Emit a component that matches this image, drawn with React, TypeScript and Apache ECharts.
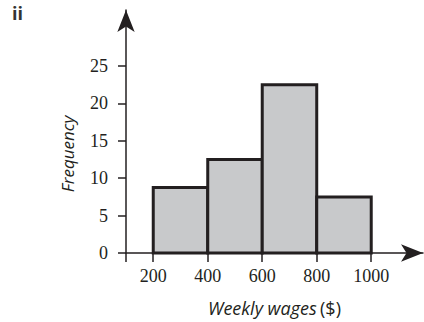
import React, { useEffect, useRef } from "react";
import * as echarts from "echarts";

const binStart = [200, 400, 600, 800];
const binEnd = [400, 600, 800, 1000];
const frequency = [8.75, 12.5, 22.5, 7.5];
const xTickLabels = [200, 400, 600, 800, 1000];
const yTickLabels = [0, 5, 10, 15, 20, 25];
const xAxisOrigin = 100;

export default function App() {
  const ref = useRef<HTMLDivElement>(null);
  useEffect(() => {
    const chart = echarts.init(ref.current!, null, { renderer: "svg" });
    const dark = "#231f20";
    chart.setOption({
      animation: false,
      backgroundColor: "#ffffff",
      graphic: [
        {
          type: "text",
          left: 12,
          top: 4,
          style: {
            text: "ii",
            fontFamily: "Open Sans",
            fontWeight: "bold",
            fontSize: 18,
            fill: "#333333",
          },
        },
        {
          type: "text",
          x: 67,
          y: 154,
          rotation: Math.PI / 2,
          style: {
            text: "Frequency",
            fontFamily: "Open Sans",
            fontStyle: "italic",
            fontSize: 17,
            fill: dark,
            align: "center",
            verticalAlign: "middle",
          },
        },
      ],
      grid: { left: 126, right: 1, top: 10, bottom: 66, containLabel: false },
      xAxis: {
        type: "value",
        min: xAxisOrigin,
        max: 1190,
        splitLine: { show: false },
        axisLine: {
          show: true,
          onZero: false,
          symbol: ["none", "arrow"],
          symbolSize: [13, 22],
          lineStyle: { color: dark, width: 1.5 },
        },
        axisTick: {
          show: true,
          length: 9,
          customValues: [xAxisOrigin, ...xTickLabels],
          lineStyle: { color: dark, width: 1.5 },
        },
        axisLabel: {
          customValues: xTickLabels,
          formatter: (v: number) => String(v),
          margin: 14,
          fontFamily: "Liberation Serif",
          fontSize: 18,
          color: dark,
        },
        name: "{i|Weekly wages} {n|($)}",
        nameLocation: "middle",
        nameGap: 46,
        nameTextStyle: {
          rich: {
            i: { fontFamily: "Open Sans", fontStyle: "italic", fontSize: 18, color: dark },
            n: { fontFamily: "Open Sans", fontSize: 18, color: dark },
          },
        },
      },
      yAxis: {
        type: "value",
        min: 0,
        max: 32.5,
        splitLine: { show: false },
        axisLine: {
          show: true,
          symbol: ["none", "arrow"],
          symbolSize: [13, 22],
          lineStyle: { color: dark, width: 1.5 },
        },
        axisTick: {
          show: true,
          length: 8,
          customValues: yTickLabels,
          lineStyle: { color: dark, width: 1.5 },
        },
        axisLabel: {
          customValues: yTickLabels,
          formatter: (v: number) => String(v),
          margin: 18,
          fontFamily: "Liberation Serif",
          fontSize: 18,
          color: dark,
        },
      },
      series: [
        {
          type: "custom",
          data: binStart.map((s, i) => [s, binEnd[i], frequency[i]]),
          encode: { x: [0, 1], y: 2 },
          renderItem: (params: any, api: any) => {
            const p0 = api.coord([api.value(0), api.value(2)]);
            const p1 = api.coord([api.value(1), 0]);
            return {
              type: "rect",
              shape: { x: p0[0], y: p0[1], width: p1[0] - p0[0], height: p1[1] - p0[1] },
              style: { fill: "#c8c9cb", stroke: dark, lineWidth: 3 },
            };
          },
        },
      ],
    });
    return () => chart.dispose();
  }, []);
  return (
    <div
      ref={ref}
      style={{ position: "fixed", left: 0, top: 0, width: 424, height: 322 }}
    />
  );
}
